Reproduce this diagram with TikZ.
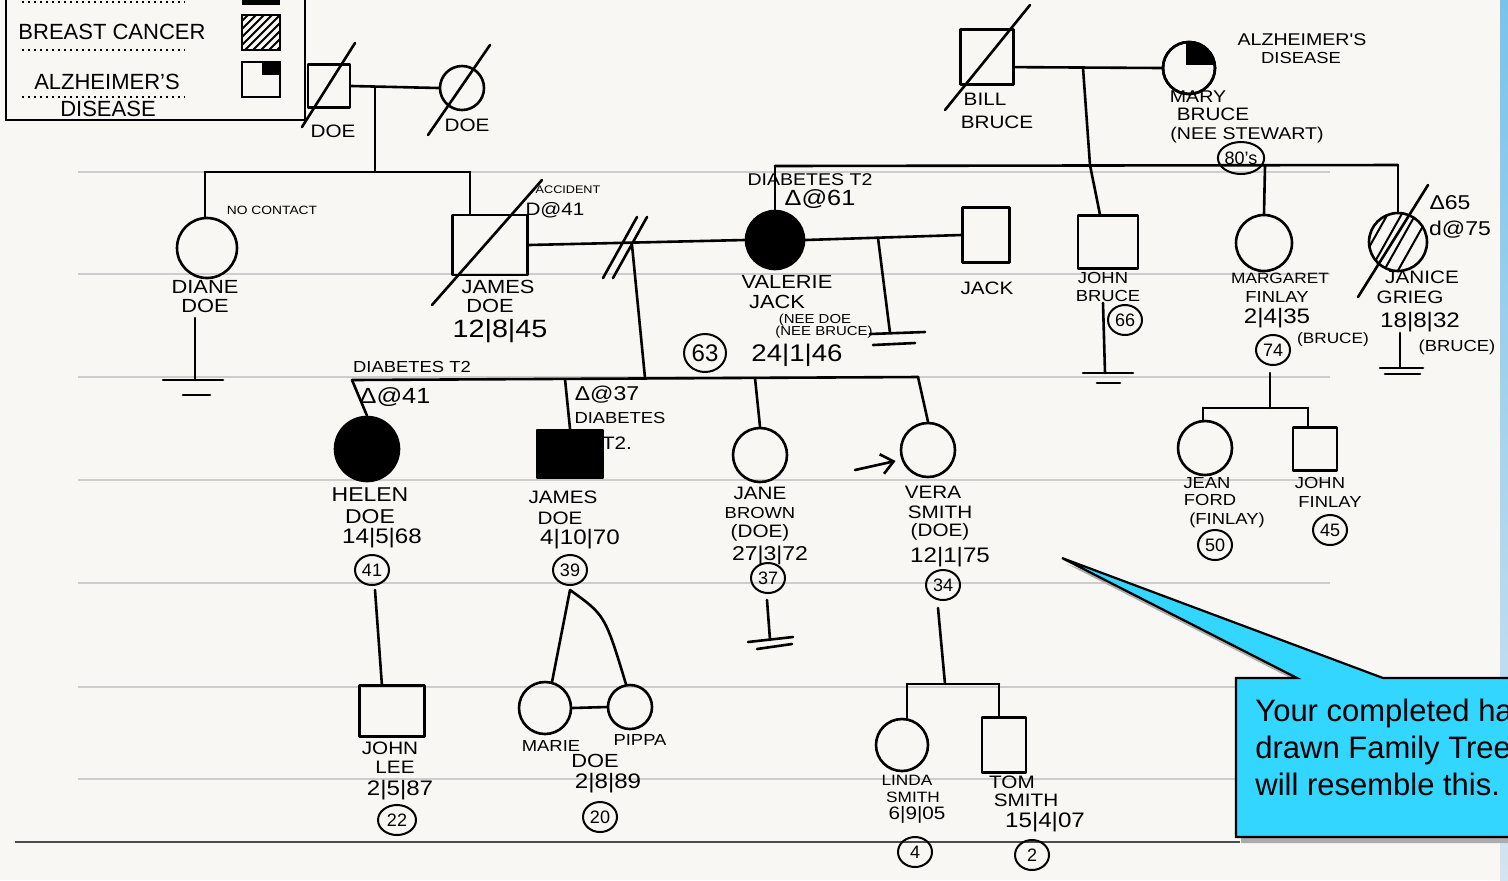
\documentclass[tikz,border=0pt]{standalone}
\usepackage{fontspec}
\setmainfont{Liberation Sans}
\newfontfamily\handfont[FakeStretch=1.15]{Liberation Sans}
\usetikzlibrary{arrows.meta,shapes.geometric,calc}
\definecolor{paper}{RGB}{248,247,243}
\definecolor{ruleline}{RGB}{205,205,205}
\definecolor{calloutblue}{RGB}{51,214,255}
\definecolor{stripeA}{RGB}{120,195,235}
\definecolor{stripeB}{RGB}{212,228,240}
\tikzset{
  pen/.style={line width=1.3pt, line cap=round, line join=round},
  male/.style={pen, draw, rectangle, inner sep=0},
  female/.style={pen, draw, circle, inner sep=0},
  hw/.style={inner sep=0, font=\handfont\fontsize{#1}{#1}\selectfont},
  hw/.default=10,
  lg/.style={inner sep=0, font=\fontsize{11}{11}\selectfont},
  age/.style={draw, ellipse, line width=1pt, inner sep=0, minimum width=17pt, minimum height=15pt, font=\fontsize{9}{9}\selectfont},
  bar/.style={pen},
}
\begin{document}
\begin{tikzpicture}[x=0.5pt,y=-0.5pt]
\fill[paper] (0,0) rectangle (1508,880);
\useasboundingbox (0,0) rectangle (1508,880);
% ruled paper
\foreach \yy in {172,274,377,480,583,687,779}
  \draw[ruleline, line width=0.6pt] (78,\yy) -- (1330,\yy);
\draw[gray!60!black, line width=0.7pt] (15,842) -- (1240,842);
\shade[top color=stripeA, bottom color=stripeB] (1500,0) rectangle (1508,880);

% ---------- legend ----------
\draw[line width=0.9pt] (6,-2) -- (6,120) -- (305,120) -- (305,-2);
\draw[dotted, line width=1pt] (22,2) -- (185,2);
\draw[dotted, line width=1pt] (22,50) -- (185,50);
\draw[dotted, line width=1pt] (22,97) -- (185,97);
\fill (242,-2) rectangle (280,5);
\node[lg] (lgBC) at (112,32) {BREAST CANCER};
\node[lg] (lgAZ1) at (107,82) {ALZHEIMER'S};
\node[lg] (lgAZ2) at (108,109) {DISEASE};
\node[draw, line width=1.2pt, inner sep=0, minimum width=19pt, minimum height=17.5pt] (lgH) at (261,32.5) {};
\begin{scope}
  \clip (242,15) rectangle (280,50);
  \foreach \i in {-4,...,8} \draw[line width=1pt] (232+\i*8,55) -- ++(45,-45);
\end{scope}
\node[draw, line width=1.2pt, inner sep=0, minimum width=19pt, minimum height=17.5pt] (lgA) at (261,79.5) {};
\fill (262,62) rectangle (280,75);

% ---------- grandparents Doe ----------
\node[male, minimum width=21pt, minimum height=21.5pt] (gfD) at (329,86) {};
\draw[pen] (302,127) -- (355,43);
\node[hw=9] (gfDl) at (333,131) {DOE};
\node[female, minimum size=22pt] (gmD) at (462,88) {};
\draw[pen] (428,135) -- (490,45);
\node[hw=9] (gmDl) at (467,125) {DOE};
\draw[pen] (gfD.east) -- (gmD.west);
\coordinate (dP) at (375,87);
\coordinate (dS) at (375,172);
\coordinate (sL) at (205,172);
\coordinate (sR) at (470,172);
\draw[pen] (dP) -- (dS);
\draw[pen] (sL) -- (sR);

% Diane
\node[female, minimum size=30pt] (dd) at (207,248) {};
\draw[pen] (sL) -- (dd.north -| sL);
\node[hw=6] (ddNC) at (272,210) {NO CONTACT};
\node[hw=9.5] (ddl1) at (205,287) {DIANE};
\node[hw=9.5] (ddl2) at (205,306) {DOE};
\coordinate (ddT) at (195,318);
\coordinate (ddB) at (195,380);
\draw[pen] (ddT) -- (ddB);
\draw[bar] ($(ddB)+(-32,0)$) -- ($(ddB)+(28,0)$);
\draw[bar] ($(ddB)+(-12,15)$) -- ($(ddB)+(15,15)$);

% James Doe
\node[male, minimum width=37.5pt, minimum height=30pt] (jd) at (490,245) {};
\draw[pen] (sR) -- (jd.north -| sR);
\draw[pen] (432,305) -- (542,180);
\node[hw=5.5] (jdA) at (568,190) {ACCIDENT};
\node[hw=9] (jdB) at (555,210) {D@41};
\node[hw=9.5] (jdl1) at (498,287) {JAMES};
\node[hw=9.5] (jdl2) at (490,306) {DOE};
\node[hw=12.5] (jdl3) at (500,331) {12|8|45};

% Valerie
\node[female, fill=black, minimum size=29pt] (vj) at (775,240) {};
\draw[pen] (jd.east) -- (vj.west);
\draw[pen] (603,278) -- (637,217);
\draw[pen] (613,278) -- (647,217);
\node[hw=8.5] (vjA) at (810,180) {DIABETES T2};
\node[hw=11] (vjB) at (820,199) {Δ@61};
\node[hw=9.5] (vjl1) at (787,282) {VALERIE};
\node[hw=9.5] (vjl2) at (777,302) {JACK};
\node[hw=6.5] (vjl3) at (815,320) {(NEE DOE};
\node[hw=6.5] (vjl4) at (824,332) {(NEE BRUCE)};
\node[hw=12] (vjl5) at (797,355) {24|1|46};
\node[age, minimum width=21pt, minimum height=19pt, font=\fontsize{12}{12}\selectfont] (vjAge) at (705,353) {63};

% Jack
\node[male, minimum width=23.5pt, minimum height=27.5pt] (jk) at (986,235) {};
\draw[pen] (vj.east) -- (jk.west);
\node[hw=9] (jkl) at (987,288) {JACK};
\coordinate (vkD) at (878,238);
\coordinate (vkE) at (890,333);
\draw[pen] (vkD) -- (vkE);
\draw[bar] (870,334) -- (925,332);
\draw[bar] (873,345) -- (915,343);

% Children of James & Valerie
\coordinate (jvD) at (632,245);
\coordinate (jvS) at (645,378);
\draw[pen] (jvD) -- (jvS);
\coordinate (cL) at (352,380);
\coordinate (cR) at (918,377);
\coordinate (cJ) at (565,379);
\coordinate (cB) at (755,378);
\draw[pen] (cL) -- (cR);

% Helen
\node[female, fill=black, minimum size=32pt] (hd) at (367,449) {};
\draw[pen] (cL) -- (hd.north);
\node[hw=8] (hdA) at (412,367) {DIABETES T2};
\node[hw=11] (hdB) at (395,397) {Δ@41};
\node[hw=10] (hdl1) at (370,495) {HELEN};
\node[hw=10] (hdl2) at (370,517) {DOE};
\node[hw=10.5] (hdl3) at (382,538) {14|5|68};
\node[age] (hdAge) at (372,570) {41};

% James Jr
\node[male, fill=black, minimum width=33pt, minimum height=24pt] (jj) at (570,454) {};
\draw[pen] (cJ) -- (jj.north);
\node[hw=10] (jjA) at (607,395) {Δ@37};
\node[hw=8] (jjB) at (620,418) {DIABETES};
\node[hw=9] (jjC) at (617,443) {T2.};
\node[hw=9] (jjl1) at (563,497) {JAMES};
\node[hw=9] (jjl2) at (560,518) {DOE};
\node[hw=10.5] (jjl3) at (580,539) {4|10|70};
\node[age] (jjAge) at (570,570) {39};

% Jane
\node[female, minimum size=27pt] (jbr) at (760,455) {};
\draw[pen] (cB) -- (jbr.north);
\node[hw=9] (jbrl1) at (760,493) {JANE};
\node[hw=8] (jbrl2) at (760,513) {BROWN};
\node[hw=9] (jbrl3) at (760,533) {(DOE)};
\node[hw=10] (jbrl4) at (770,555) {27|3|72};
\node[age] (jbrAge) at (768,578) {37};
\coordinate (jbrT) at (767,600);
\coordinate (jbrB) at (770,640);
\draw[pen] (jbrT) -- (jbrB);
\draw[bar] (748,642) -- (793,637);
\draw[bar] (757,649) -- (792,644);

% Vera
\node[female, minimum size=27pt] (vs) at (928,450) {};
\draw[pen] (cR) -- (vs.north);
\coordinate (arT) at (855,470);
\draw[pen, -{Straight Barb[length=6pt,width=10pt]}, shorten >=3pt] (arT) -- (vs.200);
\node[hw=9] (vsl1) at (933,492) {VERA};
\node[hw=9] (vsl2) at (940,512) {SMITH};
\node[hw=9] (vsl3) at (940,532) {(DOE)};
\node[hw=10.5] (vsl4) at (950,557) {12|1|75};
\node[age] (vsAge) at (943,585) {34};

% Vera's children
\coordinate (vsD) at (938,608);
\coordinate (vsS) at (945,684);
\coordinate (vsL) at (907,684);
\coordinate (vsR) at (999,684);
\draw[pen] (vsD) -- (vsS);
\draw[pen] (vsL) -- (vsR);
\node[female, minimum size=26pt] (ls) at (902,745) {};
\draw[pen] (vsL) -- (ls.north -| vsL);
\node[hw=7.5] (lsl1) at (907,780) {LINDA};
\node[hw=7.5] (lsl2) at (913,797) {SMITH};
\node[hw=9] (lsl3) at (917,815) {6|9|05};
\node[age] (lsAge) at (915,852) {4};
\node[male, minimum width=22pt, minimum height=27.5pt] (ts) at (1004,745) {};
\draw[pen] (vsR) -- (ts.north -| vsR);
\node[hw=9] (tsl1) at (1012,782) {TOM};
\node[hw=9] (tsl2) at (1026,800) {SMITH};
\node[hw=10.5] (tsl3) at (1045,822) {15|4|07};
\node[age] (tsAge) at (1032,855) {2};

% Helen's son
\coordinate (hdD) at (375,590);
\node[male, minimum width=32.5pt, minimum height=25.5pt] (jl) at (392,711) {};
\draw[pen] (hdD) -- ($(jl.north west)!0.35!(jl.north east)$);
\node[hw=9] (jll1) at (390,748) {JOHN};
\node[hw=9] (jll2) at (395,767) {LEE};
\node[hw=10.5] (jll3) at (400,790) {2|5|87};
\node[age, minimum width=19pt] (jlAge) at (397,820) {22};

% Twins
\coordinate (twA) at (570,590);
\node[female, minimum size=26pt] (mr) at (545,708) {};
\node[female, minimum size=22pt] (pp) at (630,707) {};
\draw[pen] (twA) -- (mr.75);
\draw[pen] (twA) .. controls (605,615) .. (pp.100);
\draw[pen] (mr.east) -- (pp.west);
\node[hw=8] (mrl) at (551,746) {MARIE};
\node[hw=8] (ppl) at (640,740) {PIPPA};
\node[hw=9.5] (twl1) at (595,761) {DOE};
\node[hw=10.5] (twl2) at (608,783) {2|8|89};
\node[age] (twAge) at (600,817) {20};

% ---------- Bruce grandparents ----------
\node[male, minimum width=26.5pt, minimum height=27.5pt] (bb) at (987,57) {};
\draw[pen] (945,110) -- (1030,5);
\node[hw=9] (bbl1) at (985,99) {BILL};
\node[hw=9] (bbl2) at (997,122) {BRUCE};
\node[female, minimum size=26pt] (mb) at (1189,68) {};
\begin{scope}
  \clip (mb.center) circle[radius=13pt];
  \fill (1186,65) rectangle (1220,30);
\end{scope}
\node[female, minimum size=26pt] (mb2) at (1189,68) {};
\draw[pen] (bb.-20) -- (mb.west);
\node[hw=8.5] (mbA1) at (1302,40) {ALZHEIMER'S};
\node[hw=8] (mbA2) at (1301,58) {DISEASE};
\node[hw=8.5] (mbl1) at (1198,97) {MARY};
\node[hw=9] (mbl2) at (1213,114) {BRUCE};
\node[hw=8.5] (mbl3) at (1247,135) {(NEE STEWART)};
\node[age, minimum width=23pt, minimum height=16pt, font=\fontsize{9}{9}\selectfont] (mbAge) at (1241,158) {80's};
\coordinate (bmD) at (1083,68);
\coordinate (bmS) at (1090,165);
\draw[pen] (bmD) -- (bmS);
\coordinate (tL) at (775,166);
\coordinate (tM) at (1265,165);
\coordinate (tR) at (1398,165);
\draw[pen] (tL) -- (tR);
\draw[pen] (tL) -- (vj.north);

% John Bruce
\node[male, minimum width=30pt, minimum height=26.5pt] (jb) at (1108,242) {};
\draw[pen] (bmS) -- ($(jb.north west)!0.37!(jb.north east)$);
\node[hw=8] (jbl1) at (1103,278) {JOHN};
\node[hw=8] (jbl2) at (1108,296) {BRUCE};
\node[age] (jbAge) at (1125,320) {66};
\coordinate (jbT) at (1103,303);
\coordinate (jbB) at (1105,373);
\draw[pen] (jbT) -- (jbB);
\draw[bar] (1083,373) -- (1133,373);
\draw[bar] (1097,383) -- (1120,383);

% Margaret
\node[female, minimum size=28pt] (mf) at (1264,243) {};
\draw[pen] (tM) -- (mf.north);
\node[hw=7.5] (mfl1) at (1280,278) {MARGARET};
\node[hw=8] (mfl2) at (1277,297) {FINLAY};
\node[hw=10.5] (mfl3) at (1277,318) {2|4|35};
\node[age] (mfAge) at (1273,350) {74};
\node[hw=7.5] (mfl4) at (1333,340) {(BRUCE)};
\coordinate (mfD) at (1270,373);
\coordinate (mfS) at (1270,408);
\coordinate (mfL) at (1203,408);
\coordinate (mfR) at (1308,408);
\draw[pen] (mfD) -- (mfS);
\draw[pen] (mfL) -- (mfR);
\node[female, minimum size=27pt] (je) at (1205,448) {};
\draw[pen] (mfL) -- (je.north -| mfL);
\node[hw=8] (jel1) at (1207,483) {JEAN};
\node[hw=8] (jel2) at (1210,500) {FORD};
\node[hw=8] (jel3) at (1227,520) {(FINLAY)};
\node[age] (jeAge) at (1215,545) {50};
\node[male, minimum width=22pt, minimum height=21.5pt] (jn) at (1315,449) {};
\draw[pen] (mfR) -- (jn.north -| mfR);
\node[hw=8] (jnl1) at (1320,483) {JOHN};
\node[hw=8] (jnl2) at (1330,502) {FINLAY};
\node[age] (jnAge) at (1330,530) {45};

% Janice
\node[female, minimum size=29pt] (jg) at (1398,242) {};
\begin{scope}
  \clip (jg.center) circle[radius=14.5pt];
  \foreach \d in {-26,-12,2,16} \draw[line width=1pt] ($(jg.center)+(\d-18,32)$) -- ++(36,-64);
\end{scope}
\draw[pen] (tR) -- (jg.north);
\draw[pen] (1358,297) -- (1428,185);
\node[hw=10] (jgA) at (1450,203) {Δ65};
\node[hw=10] (jgB) at (1460,230) {d@75};
\node[hw=9] (jgl1) at (1422,277) {JANICE};
\node[hw=9] (jgl2) at (1410,297) {GRIEG};
\node[hw=10.5] (jgl3) at (1420,322) {18|8|32};
\node[hw=8] (jgl4) at (1457,347) {(BRUCE)};
\coordinate (jgT) at (1400,333);
\coordinate (jgB) at (1400,367);
\draw[pen] (jgT) -- (jgB);
\draw[bar] (1380,368) -- (1423,368);
\draw[bar] (1385,374) -- (1420,374);

% ---------- callout ----------
\begin{scope}
  \clip (0,0) rectangle (1508,880);
  \fill[gray!65] (1241,684) -- (1302,684) -- (1067,564) -- (1388,684) -- (1520,684) -- (1520,843) -- (1241,843) -- cycle;
  \filldraw[fill=calloutblue, draw=black, line width=1.1pt] (1236,678) -- (1297,678) -- (1062,558) -- (1383,678) -- (1520,678) -- (1520,837) -- (1236,837) -- cycle;
  \node[anchor=west, align=left, inner sep=0, font=\fontsize{15.5}{18.5}\selectfont] (co) at (1255,747) {Your completed hand\\drawn Family Tree\\will resemble this.};
\end{scope}
\end{tikzpicture}
\end{document}
